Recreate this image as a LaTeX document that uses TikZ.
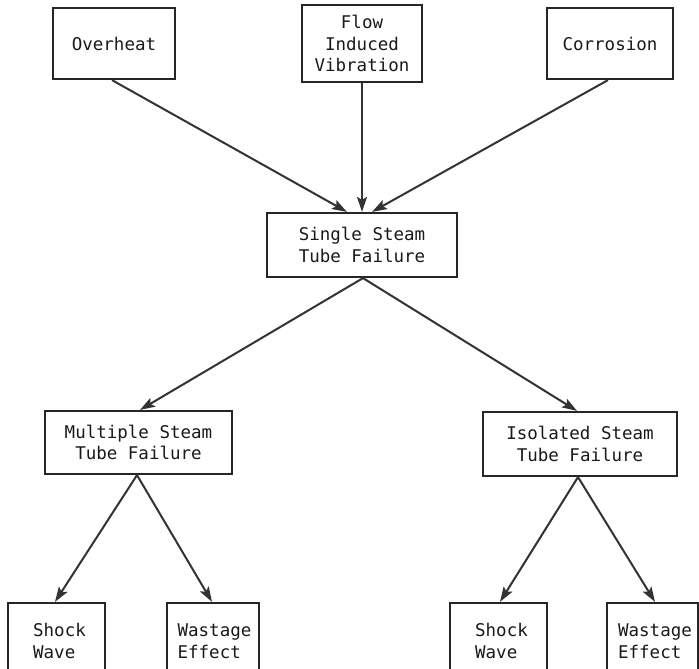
\documentclass[tikz,border=0pt]{standalone}
\usepackage{fontspec}
\setmonofont{DejaVu Sans Mono}
\usetikzlibrary{arrows.meta}
\tikzset{
  box/.style={draw=black!85, line width=2.2pt, rectangle, inner sep=0pt,
    font=\ttfamily\fontsize{17.5}{21.5}\selectfont, text=black!90},
  arr/.style={draw=black!80, line width=2pt, -{Stealth[length=15pt,width=10pt,inset=3pt]}}
}
\begin{document}
\begin{tikzpicture}[x=1pt,y=-1pt]
\useasboundingbox (0,0) rectangle (699,669);
\clip (0,0) rectangle (699,669);
\node[box, minimum width=122pt, minimum height=71pt, align=center] (over) at (114,43.5) {Overheat};
\node[box, minimum width=120pt, minimum height=77pt, align=center] (flow) at (362,43.5) {Flow\\Induced\\Vibration};
\node[box, minimum width=126pt, minimum height=71pt, align=center] (corr) at (610,43.5) {Corrosion};
\node[box, minimum width=190pt, minimum height=64pt, align=center] (single) at (362,245) {Single Steam\\Tube Failure};
\node[box, minimum width=187pt, minimum height=63pt, align=center] (mult) at (138.5,442.5) {Multiple Steam\\Tube Failure};
\node[box, minimum width=194pt, minimum height=64pt, align=center] (iso) at (580,444) {Isolated Steam\\Tube Failure};
\node[box, minimum width=97pt, minimum height=76pt, align=left] (shockA) at (56.5,641) {\hspace{6pt}Shock\\\hspace{6pt}Wave};
\node[box, minimum width=92pt, minimum height=76pt, align=left] (wasteA) at (213,641) {\hspace{3pt}Wastage\\\hspace{3pt}Effect};
\node[box, minimum width=97pt, minimum height=76pt, align=left] (shockB) at (498.5,641) {\hspace{6pt}Shock\\\hspace{6pt}Wave};
\node[box, minimum width=91pt, minimum height=76pt, align=left] (wasteB) at (652.5,641) {\hspace{5pt}Wastage\\\hspace{5pt}Effect};

\draw[arr] ([xshift=-2pt]over.south) -- ([xshift=-15pt]single.north);
\draw[arr] (flow.south) -- (single.north);
\draw[arr] ([xshift=-2pt]corr.south) -- ([xshift=10pt]single.north);
\draw[arr] ([xshift=1pt]single.south) -- ([xshift=1.5pt]mult.north);
\draw[arr] ([xshift=1pt]single.south) -- ([xshift=-3pt]iso.north);
\draw[arr] ([xshift=-1.5pt]mult.south) -- ([xshift=-1.5pt]shockA.north);
\draw[arr] ([xshift=-1.5pt]mult.south) -- ([xshift=-1pt]wasteA.north);
\draw[arr] ([xshift=-2pt]iso.south) -- ([xshift=1.5pt]shockB.north);
\draw[arr] ([xshift=-2pt]iso.south) -- ([xshift=2.5pt]wasteB.north);
\end{tikzpicture}
\end{document}
